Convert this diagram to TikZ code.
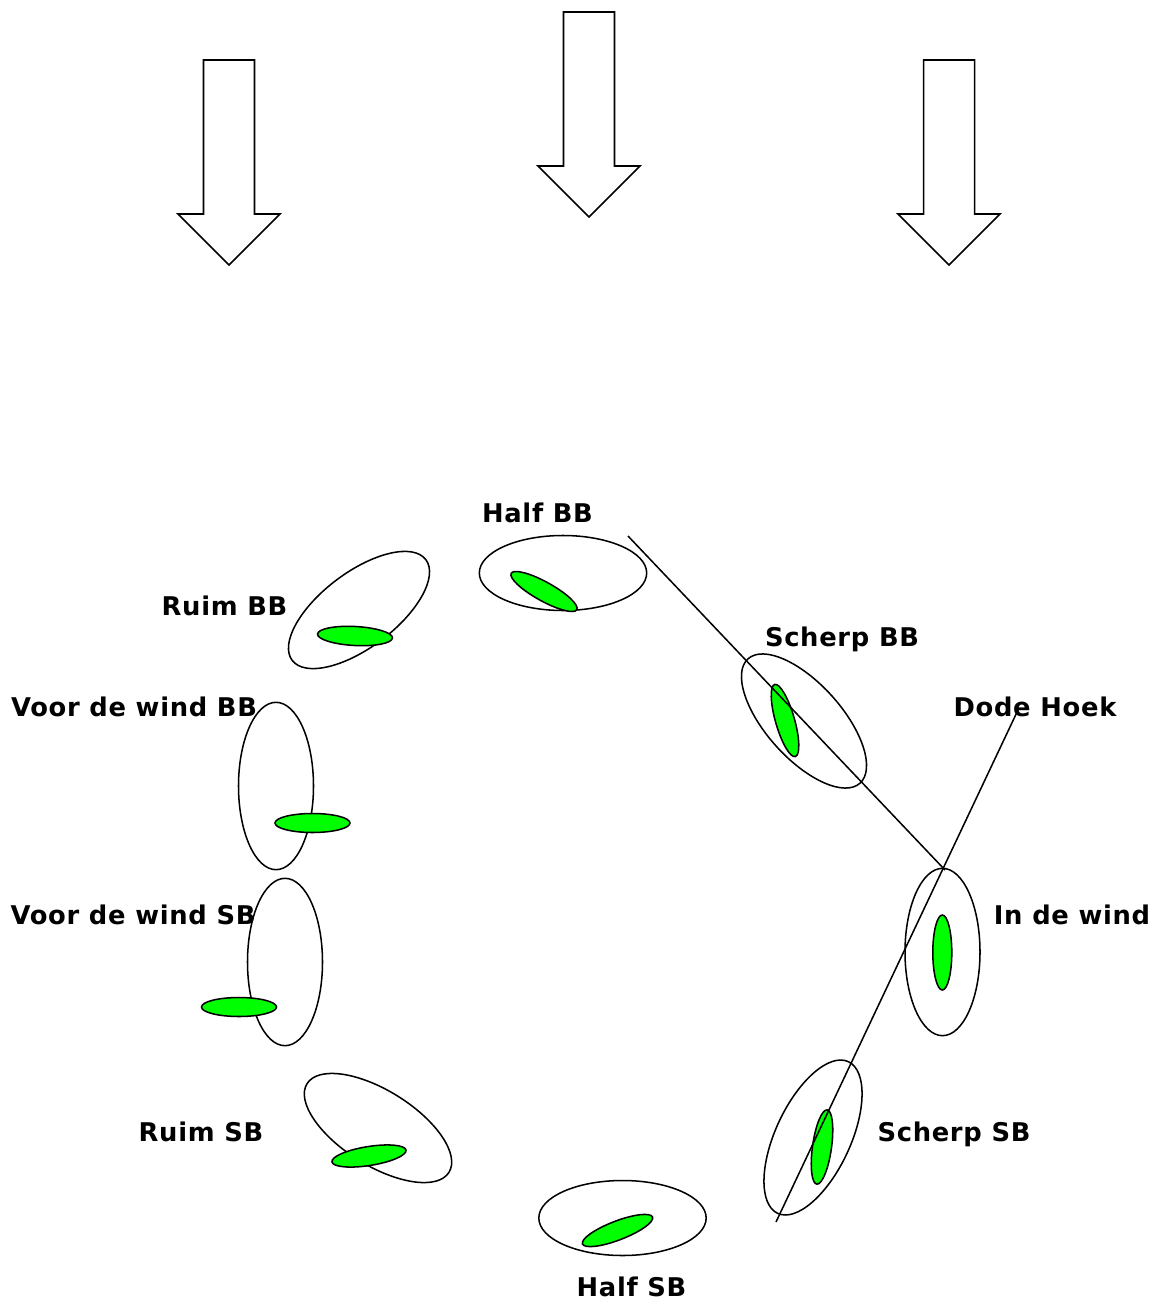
\documentclass[tikz,border=0pt]{standalone}
\usepackage{fontspec}
\setmainfont{DejaVu Sans}[LetterSpace=2.7]
\usetikzlibrary{shapes.geometric}

\tikzset{
  boot/.style={draw, ellipse, line width=1.3pt, inner sep=0pt,
    minimum width=5.02cm, minimum height=2.25cm},
  zeil/.style={draw, ellipse, fill=green, line width=1.3pt, inner sep=0pt,
    minimum width=2.25cm, minimum height=0.57cm},
  koers/.style={font=\bfseries\fontsize{22}{26}\selectfont, anchor=base, inner sep=0pt},
  windpijl/.style={draw, line width=1.3pt, line join=miter},
  lijn/.style={draw, line width=1.3pt}
}

\begin{document}
\begin{tikzpicture}[x=0.03cm, y=-0.03cm]
\useasboundingbox (0,0) rectangle (1158,1301);

% wind
\foreach \wx/\wy in {229/60, 589/12, 949/60}
  \draw[windpijl] (\wx-25.5,\wy) -- (\wx+25.5,\wy) -- (\wx+25.5,\wy+154)
    -- (\wx+51,\wy+154) -- (\wx,\wy+205) -- (\wx-51,\wy+154)
    -- (\wx-25.5,\wy+154) -- cycle;

% boten
\node[boot] (halfbb) at (563,573) {};
\node[zeil, rotate=-29] (halfbbZ) at (544,591.5) {};
\node[boot, rotate=37] (ruimbb) at (359,610) {};
\node[zeil, rotate=-3] (ruimbbZ) at (355,636) {};
\node[boot, rotate=90] (vdwbb) at (276,786) {};
\node[zeil] (vdwbbZ) at (312.5,823) {};
\node[boot, rotate=90] (vdwsb) at (285,962) {};
\node[zeil] (vdwsbZ) at (239,1007) {};
\node[boot, rotate=-32] (ruimsb) at (378,1128) {};
\node[zeil, rotate=9] (ruimsbZ) at (369,1156) {};
\node[boot] (halfsb) at (622.5,1218) {};
\node[zeil, rotate=21] (halfsbZ) at (617.5,1230.5) {};
\node[boot, rotate=65] (scherpsb) at (813,1137.5) {};
\node[zeil, rotate=82] (scherpsbZ) at (822,1147) {};
\node[boot, rotate=90] (indewind) at (942.5,952) {};
\node[zeil, rotate=90] (indewindZ) at (942.3,952.5) {};
\node[boot, rotate=-48] (scherpbb) at (804,721) {};
\node[zeil, rotate=-74] (scherpbbZ) at (785,720.5) {};

% dode hoek
\coordinate (scherpA) at (628,536);
\coordinate (scherpB) at (945,870);
\coordinate (hoekA) at (1018,710);
\coordinate (hoekB) at (776,1222);
\draw[lijn] (scherpA) -- (scherpB);
\draw[lijn] (hoekA) -- (hoekB);

% teksten
\node[koers] (tHalfBB) at (537.5,522.7) {Half BB};
\node[koers] (tRuimBB) at (224.5,615.7) {Ruim BB};
\node[koers] (tVdwBB) at (134,716.7) {Voor de wind BB};
\node[koers] (tVdwSB) at (133,924.7) {Voor de wind SB};
\node[koers] (tRuimSB) at (201,1141.7) {Ruim SB};
\node[koers] (tHalfSB) at (631.5,1296.7) {Half SB};
\node[koers] (tScherpSB) at (954,1141.7) {Scherp SB};
\node[koers] (tWind) at (1072,924.7) {In de wind};
\node[koers] (tHoek) at (1035,716.7) {Dode Hoek};
\node[koers] (tScherpBB) at (842,646.7) {Scherp BB};
\end{tikzpicture}
\end{document}
